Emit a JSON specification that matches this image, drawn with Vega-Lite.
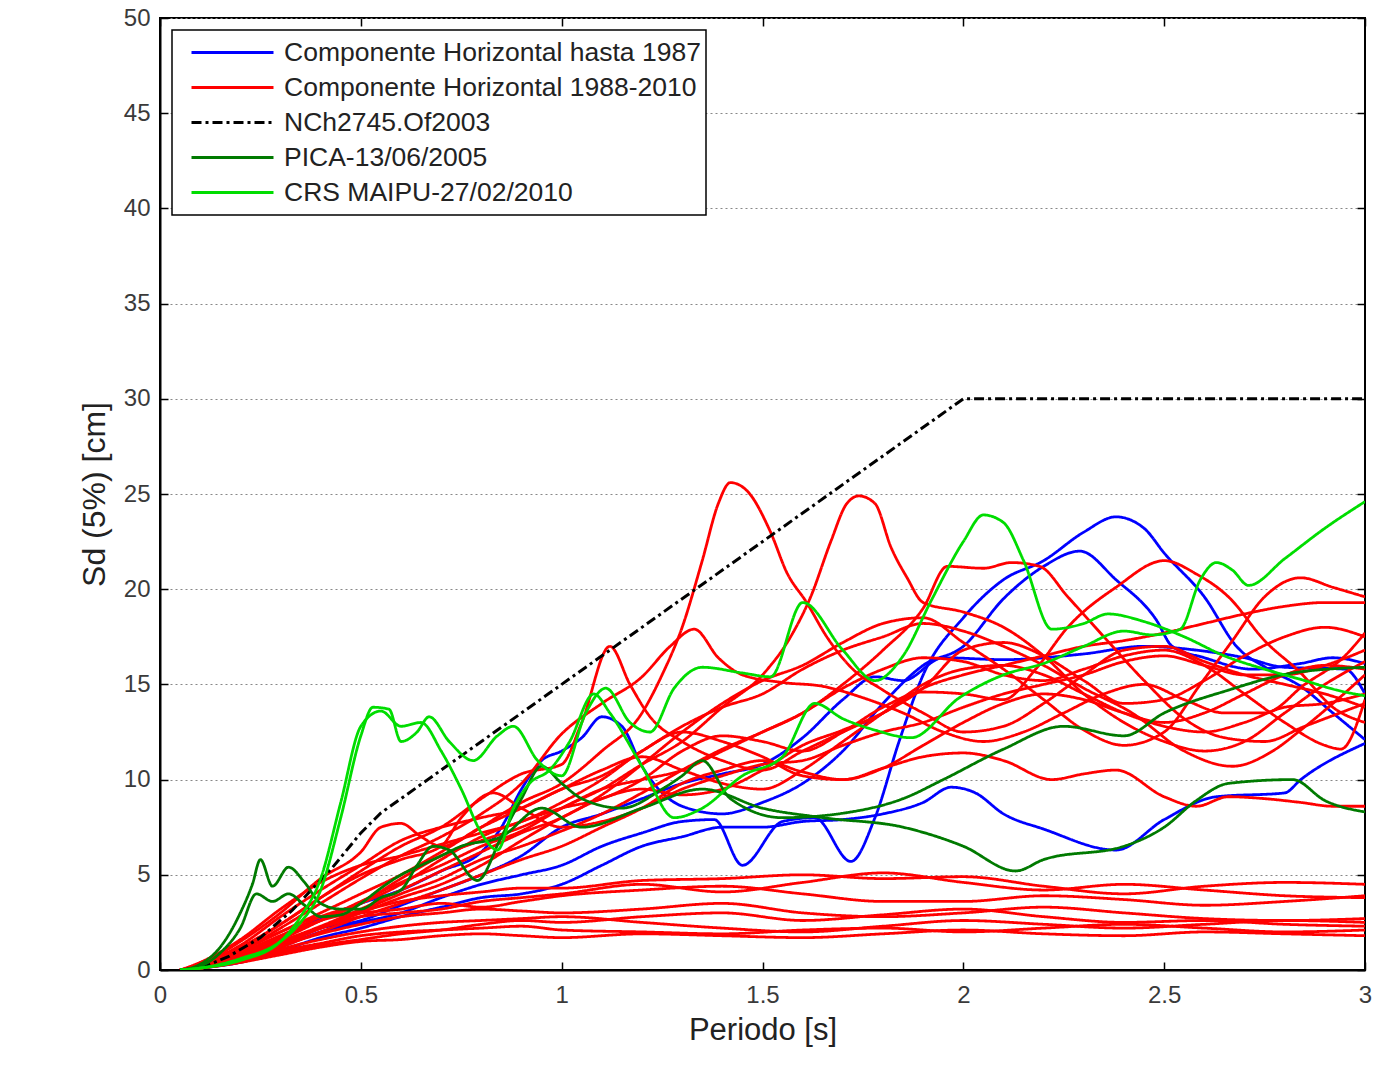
{
"$schema":"https://vega.github.io/schema/vega-lite/v6.json",
"width":1205,"height":952,
"autosize":{"type":"none"},
"padding":{"left":160,"top":18,"right":27,"bottom":96},
"background":"white",
"config":{
"view":{"stroke":"black","strokeWidth":2},
"axis":{"labelFont":"Liberation Sans","titleFont":"Liberation Sans","labelFontSize":24,"titleFontSize":31,"labelColor":"#3a3a3a","titleColor":"#222","titleFontWeight":"normal","domainColor":"black","domainWidth":2,"tickColor":"black","tickWidth":1.5,"tickSize":-8,"labelPadding":18,"labelFlush":false},
"legend":{"orient":"top-left","offset":12,"padding":5,"fillColor":"white","strokeColor":"black","strokeWidth":1.5,"labelFont":"Liberation Sans","labelFontSize":26.5,"labelColor":"#222","symbolType":"stroke","symbolSize":6724,"symbolStrokeWidth":3,"symbolOffset":13,"labelOffset":9,"clipHeight":35,"rowPadding":0,"labelLimit":0}
},
"datasets":{
"ser":[{"s":"b1","g":"Componente Horizontal hasta 1987"},{"s":"b2","g":"Componente Horizontal hasta 1987"},{"s":"b3","g":"Componente Horizontal hasta 1987"},{"s":"b4","g":"Componente Horizontal hasta 1987"},
{"s":"r1","g":"Componente Horizontal 1988-2010"},{"s":"r2","g":"Componente Horizontal 1988-2010"},{"s":"r3","g":"Componente Horizontal 1988-2010"},{"s":"r4","g":"Componente Horizontal 1988-2010"},{"s":"r5","g":"Componente Horizontal 1988-2010"},{"s":"r6","g":"Componente Horizontal 1988-2010"},{"s":"r7","g":"Componente Horizontal 1988-2010"},{"s":"r8","g":"Componente Horizontal 1988-2010"},{"s":"r9","g":"Componente Horizontal 1988-2010"},{"s":"r10","g":"Componente Horizontal 1988-2010"},{"s":"r11","g":"Componente Horizontal 1988-2010"},{"s":"r12","g":"Componente Horizontal 1988-2010"},{"s":"r13","g":"Componente Horizontal 1988-2010"},{"s":"r14","g":"Componente Horizontal 1988-2010"},
{"s":"l1","g":"Componente Horizontal 1988-2010"},{"s":"l2","g":"Componente Horizontal 1988-2010"},{"s":"l3","g":"Componente Horizontal 1988-2010"},{"s":"l4","g":"Componente Horizontal 1988-2010"},{"s":"l5","g":"Componente Horizontal 1988-2010"},{"s":"l6","g":"Componente Horizontal 1988-2010"},{"s":"l7","g":"Componente Horizontal 1988-2010"},{"s":"l8","g":"Componente Horizontal 1988-2010"},
{"s":"n","g":"NCh2745.Of2003"},
{"s":"d1","g":"PICA-13/06/2005"},{"s":"d2","g":"PICA-13/06/2005"},
{"s":"g1","g":"CRS MAIPU-27/02/2010"},{"s":"g2","g":"CRS MAIPU-27/02/2010"}],
"pts":[
{"s":"b1","t":0.05,"v":0},{"s":"b1","t":0.1,"v":0.1},{"s":"b1","t":0.2,"v":0.5},{"s":"b1","t":0.3,"v":1.2},{"s":"b1","t":0.4,"v":2},{"s":"b1","t":0.5,"v":2.5},{"s":"b1","t":0.6,"v":3},{"s":"b1","t":0.7,"v":3.8},{"s":"b1","t":0.8,"v":4.5},{"s":"b1","t":0.9,"v":5},{"s":"b1","t":1.0,"v":5.5},{"s":"b1","t":1.1,"v":6.5},{"s":"b1","t":1.2,"v":7.2},{"s":"b1","t":1.3,"v":7.8},{"s":"b1","t":1.38,"v":7.9},{"s":"b1","t":1.45,"v":5.5},{"s":"b1","t":1.55,"v":7.8},{"s":"b1","t":1.63,"v":8},{"s":"b1","t":1.72,"v":5.7},{"s":"b1","t":1.78,"v":8},{"s":"b1","t":1.84,"v":12},{"s":"b1","t":1.9,"v":15.5},{"s":"b1","t":2.0,"v":18.5},{"s":"b1","t":2.1,"v":20.5},{"s":"b1","t":2.2,"v":21.5},{"s":"b1","t":2.3,"v":23},{"s":"b1","t":2.38,"v":23.8},{"s":"b1","t":2.45,"v":23.2},{"s":"b1","t":2.5,"v":21.9},{"s":"b1","t":2.6,"v":19.6},{"s":"b1","t":2.68,"v":17},{"s":"b1","t":2.76,"v":15.8},{"s":"b1","t":2.84,"v":14.9},{"s":"b1","t":2.92,"v":13.5},{"s":"b1","t":3.0,"v":12.1},
{"s":"b2","t":0.05,"v":0},{"s":"b2","t":0.1,"v":0.2},{"s":"b2","t":0.2,"v":0.9},{"s":"b2","t":0.3,"v":1.7},{"s":"b2","t":0.4,"v":2.7},{"s":"b2","t":0.5,"v":3.5},{"s":"b2","t":0.6,"v":4.2},{"s":"b2","t":0.7,"v":5.2},{"s":"b2","t":0.8,"v":6.2},{"s":"b2","t":0.85,"v":7.5},{"s":"b2","t":0.9,"v":9.5},{"s":"b2","t":0.95,"v":11},{"s":"b2","t":1.0,"v":11.5},{"s":"b2","t":1.05,"v":12.2},{"s":"b2","t":1.1,"v":13.3},{"s":"b2","t":1.15,"v":12.8},{"s":"b2","t":1.2,"v":10.7},{"s":"b2","t":1.3,"v":8.6},{"s":"b2","t":1.4,"v":8.2},{"s":"b2","t":1.5,"v":8.8},{"s":"b2","t":1.6,"v":9.8},{"s":"b2","t":1.7,"v":11.5},{"s":"b2","t":1.8,"v":14},{"s":"b2","t":1.9,"v":16},{"s":"b2","t":2.0,"v":17},{"s":"b2","t":2.1,"v":19.5},{"s":"b2","t":2.2,"v":21.2},{"s":"b2","t":2.29,"v":22},{"s":"b2","t":2.38,"v":20.5},{"s":"b2","t":2.48,"v":18.4},{"s":"b2","t":2.52,"v":17},{"s":"b2","t":2.6,"v":16.4},{"s":"b2","t":2.72,"v":15.8},{"s":"b2","t":2.84,"v":16.1},{"s":"b2","t":2.92,"v":16.4},{"s":"b2","t":3.0,"v":16.1},
{"s":"b3","t":0.05,"v":0},{"s":"b3","t":0.1,"v":0.1},{"s":"b3","t":0.2,"v":0.6},{"s":"b3","t":0.3,"v":1.4},{"s":"b3","t":0.4,"v":2.2},{"s":"b3","t":0.5,"v":2.6},{"s":"b3","t":0.6,"v":3.4},{"s":"b3","t":0.7,"v":4.2},{"s":"b3","t":0.8,"v":5},{"s":"b3","t":0.9,"v":6},{"s":"b3","t":1.0,"v":7.5},{"s":"b3","t":1.1,"v":8.2},{"s":"b3","t":1.2,"v":9},{"s":"b3","t":1.3,"v":9.8},{"s":"b3","t":1.4,"v":10.3},{"s":"b3","t":1.5,"v":10.8},{"s":"b3","t":1.6,"v":12.2},{"s":"b3","t":1.7,"v":14.2},{"s":"b3","t":1.78,"v":15.4},{"s":"b3","t":1.85,"v":15.2},{"s":"b3","t":1.95,"v":16.4},{"s":"b3","t":2.1,"v":16.3},{"s":"b3","t":2.3,"v":16.6},{"s":"b3","t":2.45,"v":17},{"s":"b3","t":2.58,"v":16.8},{"s":"b3","t":2.7,"v":16.4},{"s":"b3","t":2.8,"v":15.9},{"s":"b3","t":2.95,"v":15.8},{"s":"b3","t":3.0,"v":14.5},
{"s":"b4","t":0.05,"v":0},{"s":"b4","t":0.1,"v":0.1},{"s":"b4","t":0.2,"v":0.4},{"s":"b4","t":0.3,"v":1},{"s":"b4","t":0.4,"v":1.7},{"s":"b4","t":0.5,"v":2.2},{"s":"b4","t":0.6,"v":2.8},{"s":"b4","t":0.7,"v":3.3},{"s":"b4","t":0.8,"v":3.8},{"s":"b4","t":0.9,"v":4},{"s":"b4","t":1.0,"v":4.5},{"s":"b4","t":1.1,"v":5.5},{"s":"b4","t":1.2,"v":6.5},{"s":"b4","t":1.3,"v":7},{"s":"b4","t":1.4,"v":7.5},{"s":"b4","t":1.5,"v":7.5},{"s":"b4","t":1.6,"v":7.8},{"s":"b4","t":1.7,"v":7.9},{"s":"b4","t":1.8,"v":8.2},{"s":"b4","t":1.9,"v":8.8},{"s":"b4","t":1.97,"v":9.6},{"s":"b4","t":2.03,"v":9.3},{"s":"b4","t":2.1,"v":8.2},{"s":"b4","t":2.2,"v":7.4},{"s":"b4","t":2.38,"v":6.3},{"s":"b4","t":2.5,"v":7.9},{"s":"b4","t":2.63,"v":9.1},{"s":"b4","t":2.8,"v":9.3},{"s":"b4","t":2.84,"v":10},{"s":"b4","t":3.0,"v":11.9},
{"s":"r1","t":0.05,"v":0},{"s":"r1","t":0.1,"v":0.2},{"s":"r1","t":0.2,"v":1},{"s":"r1","t":0.3,"v":2},{"s":"r1","t":0.4,"v":3},{"s":"r1","t":0.5,"v":4},{"s":"r1","t":0.6,"v":5},{"s":"r1","t":0.7,"v":6.2},{"s":"r1","t":0.8,"v":7.5},{"s":"r1","t":0.9,"v":8.8},{"s":"r1","t":1.0,"v":9.8},{"s":"r1","t":1.1,"v":11.5},{"s":"r1","t":1.2,"v":13.5},{"s":"r1","t":1.25,"v":15.5},{"s":"r1","t":1.3,"v":18},{"s":"r1","t":1.35,"v":21.5},{"s":"r1","t":1.39,"v":24.5},{"s":"r1","t":1.42,"v":25.6},{"s":"r1","t":1.46,"v":25.2},{"s":"r1","t":1.52,"v":23},{"s":"r1","t":1.56,"v":20.9},{"s":"r1","t":1.61,"v":19.3},{"s":"r1","t":1.66,"v":17.5},{"s":"r1","t":1.72,"v":15.9},{"s":"r1","t":1.8,"v":14.7},{"s":"r1","t":1.9,"v":13.5},{"s":"r1","t":2.0,"v":12.5},{"s":"r1","t":2.1,"v":12.8},{"s":"r1","t":2.2,"v":14},{"s":"r1","t":2.3,"v":15.5},{"s":"r1","t":2.4,"v":16.8},{"s":"r1","t":2.5,"v":17},{"s":"r1","t":2.6,"v":16.2},{"s":"r1","t":2.7,"v":15.5},{"s":"r1","t":2.8,"v":15},{"s":"r1","t":2.9,"v":14.5},{"s":"r1","t":3.0,"v":13.8},
{"s":"r2","t":0.05,"v":0},{"s":"r2","t":0.1,"v":0.2},{"s":"r2","t":0.2,"v":0.8},{"s":"r2","t":0.3,"v":1.6},{"s":"r2","t":0.4,"v":2.6},{"s":"r2","t":0.5,"v":3.6},{"s":"r2","t":0.6,"v":4.6},{"s":"r2","t":0.7,"v":5.5},{"s":"r2","t":0.8,"v":6.5},{"s":"r2","t":0.9,"v":7.3},{"s":"r2","t":1.0,"v":8.5},{"s":"r2","t":1.1,"v":9.5},{"s":"r2","t":1.2,"v":10.8},{"s":"r2","t":1.3,"v":12},{"s":"r2","t":1.4,"v":13.8},{"s":"r2","t":1.5,"v":15.5},{"s":"r2","t":1.57,"v":17.5},{"s":"r2","t":1.62,"v":19.6},{"s":"r2","t":1.67,"v":22.5},{"s":"r2","t":1.71,"v":24.5},{"s":"r2","t":1.74,"v":24.9},{"s":"r2","t":1.78,"v":24.5},{"s":"r2","t":1.82,"v":22.2},{"s":"r2","t":1.86,"v":20.6},{"s":"r2","t":1.9,"v":19.3},{"s":"r2","t":2.0,"v":18.8},{"s":"r2","t":2.1,"v":18},{"s":"r2","t":2.2,"v":16.5},{"s":"r2","t":2.3,"v":14.5},{"s":"r2","t":2.4,"v":13},{"s":"r2","t":2.5,"v":12},{"s":"r2","t":2.6,"v":11.5},{"s":"r2","t":2.7,"v":12},{"s":"r2","t":2.8,"v":13.5},{"s":"r2","t":2.9,"v":15},{"s":"r2","t":3.0,"v":16.2},
{"s":"r3","t":0.05,"v":0},{"s":"r3","t":0.1,"v":0.1},{"s":"r3","t":0.2,"v":0.6},{"s":"r3","t":0.3,"v":1.3},{"s":"r3","t":0.4,"v":2.2},{"s":"r3","t":0.5,"v":3.1},{"s":"r3","t":0.6,"v":4},{"s":"r3","t":0.7,"v":4.8},{"s":"r3","t":0.8,"v":5.8},{"s":"r3","t":0.9,"v":6.5},{"s":"r3","t":1.0,"v":7.3},{"s":"r3","t":1.1,"v":8.2},{"s":"r3","t":1.2,"v":9.3},{"s":"r3","t":1.3,"v":10.5},{"s":"r3","t":1.4,"v":11.6},{"s":"r3","t":1.5,"v":12.5},{"s":"r3","t":1.6,"v":13.5},{"s":"r3","t":1.7,"v":15},{"s":"r3","t":1.8,"v":16.8},{"s":"r3","t":1.9,"v":19},{"s":"r3","t":1.96,"v":21.2},{"s":"r3","t":2.05,"v":21.1},{"s":"r3","t":2.12,"v":21.4},{"s":"r3","t":2.19,"v":21.2},{"s":"r3","t":2.26,"v":19.6},{"s":"r3","t":2.35,"v":17.5},{"s":"r3","t":2.45,"v":15.2},{"s":"r3","t":2.55,"v":13.2},{"s":"r3","t":2.65,"v":12.2},{"s":"r3","t":2.75,"v":12},{"s":"r3","t":2.85,"v":12.8},{"s":"r3","t":3.0,"v":14},
{"s":"r4","t":0.05,"v":0},{"s":"r4","t":0.1,"v":0.2},{"s":"r4","t":0.2,"v":0.9},{"s":"r4","t":0.3,"v":1.8},{"s":"r4","t":0.4,"v":2.8},{"s":"r4","t":0.5,"v":3.5},{"s":"r4","t":0.6,"v":4.5},{"s":"r4","t":0.7,"v":5.8},{"s":"r4","t":0.8,"v":7},{"s":"r4","t":0.9,"v":7.8},{"s":"r4","t":1.0,"v":8.5},{"s":"r4","t":1.1,"v":9},{"s":"r4","t":1.2,"v":10},{"s":"r4","t":1.3,"v":11.5},{"s":"r4","t":1.4,"v":12.3},{"s":"r4","t":1.5,"v":12},{"s":"r4","t":1.6,"v":11.5},{"s":"r4","t":1.7,"v":12.5},{"s":"r4","t":1.8,"v":13.8},{"s":"r4","t":1.9,"v":14.6},{"s":"r4","t":2.0,"v":14.5},{"s":"r4","t":2.1,"v":14.2},{"s":"r4","t":2.18,"v":15.8},{"s":"r4","t":2.26,"v":18},{"s":"r4","t":2.38,"v":20.1},{"s":"r4","t":2.5,"v":21.5},{"s":"r4","t":2.58,"v":20.8},{"s":"r4","t":2.66,"v":19.6},{"s":"r4","t":2.75,"v":17.3},{"s":"r4","t":2.84,"v":15.6},{"s":"r4","t":2.92,"v":13.8},{"s":"r4","t":3.0,"v":13},
{"s":"r5","t":0.05,"v":0},{"s":"r5","t":0.1,"v":0.1},{"s":"r5","t":0.2,"v":0.7},{"s":"r5","t":0.3,"v":1.5},{"s":"r5","t":0.4,"v":2.3},{"s":"r5","t":0.5,"v":3.2},{"s":"r5","t":0.6,"v":4.2},{"s":"r5","t":0.7,"v":5.2},{"s":"r5","t":0.8,"v":6.2},{"s":"r5","t":0.9,"v":7.2},{"s":"r5","t":1.0,"v":8},{"s":"r5","t":1.1,"v":9.2},{"s":"r5","t":1.2,"v":10.8},{"s":"r5","t":1.3,"v":12.5},{"s":"r5","t":1.4,"v":14},{"s":"r5","t":1.5,"v":15.2},{"s":"r5","t":1.6,"v":16},{"s":"r5","t":1.7,"v":17.2},{"s":"r5","t":1.8,"v":18.2},{"s":"r5","t":1.9,"v":18.5},{"s":"r5","t":2.0,"v":17.2},{"s":"r5","t":2.1,"v":15.8},{"s":"r5","t":2.2,"v":14.2},{"s":"r5","t":2.3,"v":12.6},{"s":"r5","t":2.4,"v":11.8},{"s":"r5","t":2.5,"v":12.5},{"s":"r5","t":2.59,"v":15},{"s":"r5","t":2.67,"v":17.3},{"s":"r5","t":2.75,"v":19.6},{"s":"r5","t":2.84,"v":20.6},{"s":"r5","t":2.92,"v":20.1},{"s":"r5","t":3.0,"v":19.6},
{"s":"r6","t":0.05,"v":0},{"s":"r6","t":0.1,"v":0.3},{"s":"r6","t":0.2,"v":1.2},{"s":"r6","t":0.3,"v":2.4},{"s":"r6","t":0.4,"v":3.8},{"s":"r6","t":0.5,"v":5.2},{"s":"r6","t":0.6,"v":6.5},{"s":"r6","t":0.7,"v":7.5},{"s":"r6","t":0.8,"v":9},{"s":"r6","t":0.9,"v":10.3},{"s":"r6","t":1.0,"v":10.8},{"s":"r6","t":1.05,"v":13},{"s":"r6","t":1.12,"v":17},{"s":"r6","t":1.17,"v":15},{"s":"r6","t":1.22,"v":13.3},{"s":"r6","t":1.3,"v":12},{"s":"r6","t":1.4,"v":11},{"s":"r6","t":1.5,"v":10.5},{"s":"r6","t":1.6,"v":11.5},{"s":"r6","t":1.7,"v":12.5},{"s":"r6","t":1.8,"v":13.5},{"s":"r6","t":1.9,"v":14.8},{"s":"r6","t":2.0,"v":15.5},{"s":"r6","t":2.1,"v":16},{"s":"r6","t":2.2,"v":16.5},{"s":"r6","t":2.3,"v":17},{"s":"r6","t":2.4,"v":17.3},{"s":"r6","t":2.5,"v":17.7},{"s":"r6","t":2.6,"v":18.2},{"s":"r6","t":2.7,"v":18.7},{"s":"r6","t":2.8,"v":19.1},{"s":"r6","t":2.9,"v":19.3},{"s":"r6","t":3.0,"v":19.3},
{"s":"r7","t":0.05,"v":0},{"s":"r7","t":0.1,"v":0.2},{"s":"r7","t":0.2,"v":1},{"s":"r7","t":0.3,"v":2.2},{"s":"r7","t":0.4,"v":3.5},{"s":"r7","t":0.5,"v":4.8},{"s":"r7","t":0.6,"v":6},{"s":"r7","t":0.7,"v":7},{"s":"r7","t":0.8,"v":8.2},{"s":"r7","t":0.9,"v":9.8},{"s":"r7","t":1.0,"v":12.4},{"s":"r7","t":1.1,"v":14},{"s":"r7","t":1.2,"v":15.4},{"s":"r7","t":1.27,"v":17},{"s":"r7","t":1.33,"v":17.9},{"s":"r7","t":1.39,"v":16.4},{"s":"r7","t":1.45,"v":15.5},{"s":"r7","t":1.55,"v":15.1},{"s":"r7","t":1.65,"v":14.9},{"s":"r7","t":1.75,"v":14.3},{"s":"r7","t":1.85,"v":13.5},{"s":"r7","t":1.95,"v":12.5},{"s":"r7","t":2.05,"v":12},{"s":"r7","t":2.15,"v":12.5},{"s":"r7","t":2.25,"v":13.5},{"s":"r7","t":2.35,"v":14.5},{"s":"r7","t":2.45,"v":15},{"s":"r7","t":2.55,"v":14.2},{"s":"r7","t":2.65,"v":13.5},{"s":"r7","t":2.75,"v":13.5},{"s":"r7","t":2.85,"v":15},{"s":"r7","t":2.95,"v":16.5},{"s":"r7","t":3.0,"v":17.7},
{"s":"r8","t":0.05,"v":0},{"s":"r8","t":0.1,"v":0.1},{"s":"r8","t":0.2,"v":0.5},{"s":"r8","t":0.3,"v":1.2},{"s":"r8","t":0.4,"v":2},{"s":"r8","t":0.5,"v":2.8},{"s":"r8","t":0.6,"v":3.5},{"s":"r8","t":0.7,"v":4.2},{"s":"r8","t":0.8,"v":5},{"s":"r8","t":0.9,"v":5.8},{"s":"r8","t":1.0,"v":6.5},{"s":"r8","t":1.1,"v":7.5},{"s":"r8","t":1.2,"v":8.5},{"s":"r8","t":1.3,"v":9.8},{"s":"r8","t":1.4,"v":10.5},{"s":"r8","t":1.5,"v":11},{"s":"r8","t":1.6,"v":10.4},{"s":"r8","t":1.7,"v":10},{"s":"r8","t":1.8,"v":10.6},{"s":"r8","t":1.9,"v":11.2},{"s":"r8","t":2.0,"v":11.4},{"s":"r8","t":2.1,"v":11},{"s":"r8","t":2.22,"v":10},{"s":"r8","t":2.3,"v":10.3},{"s":"r8","t":2.38,"v":10.5},{"s":"r8","t":2.5,"v":9.1},{"s":"r8","t":2.58,"v":8.6},{"s":"r8","t":2.66,"v":9.1},{"s":"r8","t":2.75,"v":9},{"s":"r8","t":2.84,"v":8.8},{"s":"r8","t":2.92,"v":8.6},{"s":"r8","t":3.0,"v":8.6},
{"s":"r9","t":0.05,"v":0},{"s":"r9","t":0.1,"v":0.3},{"s":"r9","t":0.2,"v":1.3},{"s":"r9","t":0.3,"v":2.8},{"s":"r9","t":0.4,"v":4.2},{"s":"r9","t":0.5,"v":5.5},{"s":"r9","t":0.6,"v":6.8},{"s":"r9","t":0.7,"v":7.5},{"s":"r9","t":0.8,"v":8},{"s":"r9","t":0.9,"v":8.5},{"s":"r9","t":1.0,"v":9.5},{"s":"r9","t":1.1,"v":10.2},{"s":"r9","t":1.2,"v":11.5},{"s":"r9","t":1.3,"v":12.8},{"s":"r9","t":1.4,"v":13.8},{"s":"r9","t":1.5,"v":14.5},{"s":"r9","t":1.6,"v":15.8},{"s":"r9","t":1.7,"v":16.8},{"s":"r9","t":1.8,"v":17.5},{"s":"r9","t":1.9,"v":18.2},{"s":"r9","t":2.0,"v":17.8},{"s":"r9","t":2.1,"v":17},{"s":"r9","t":2.2,"v":16},{"s":"r9","t":2.3,"v":14.8},{"s":"r9","t":2.42,"v":13.5},{"s":"r9","t":2.55,"v":11.5},{"s":"r9","t":2.67,"v":10.7},{"s":"r9","t":2.77,"v":11.5},{"s":"r9","t":2.84,"v":12.6},{"s":"r9","t":2.92,"v":14},{"s":"r9","t":3.0,"v":15.5},
{"s":"r10","t":0.05,"v":0},{"s":"r10","t":0.1,"v":0.2},{"s":"r10","t":0.2,"v":0.8},{"s":"r10","t":0.3,"v":1.7},{"s":"r10","t":0.4,"v":2.6},{"s":"r10","t":0.5,"v":3.5},{"s":"r10","t":0.6,"v":4.8},{"s":"r10","t":0.7,"v":6},{"s":"r10","t":0.8,"v":6.8},{"s":"r10","t":0.9,"v":7.5},{"s":"r10","t":1.0,"v":8.5},{"s":"r10","t":1.1,"v":9.5},{"s":"r10","t":1.2,"v":10},{"s":"r10","t":1.3,"v":10.5},{"s":"r10","t":1.4,"v":11.5},{"s":"r10","t":1.5,"v":12.5},{"s":"r10","t":1.6,"v":13.5},{"s":"r10","t":1.7,"v":14.8},{"s":"r10","t":1.8,"v":15.8},{"s":"r10","t":1.9,"v":16.4},{"s":"r10","t":2.0,"v":16.2},{"s":"r10","t":2.1,"v":15.5},{"s":"r10","t":2.2,"v":15.2},{"s":"r10","t":2.3,"v":15.8},{"s":"r10","t":2.4,"v":16.5},{"s":"r10","t":2.5,"v":16.8},{"s":"r10","t":2.6,"v":16},{"s":"r10","t":2.7,"v":14.5},{"s":"r10","t":2.8,"v":13},{"s":"r10","t":2.9,"v":11.8},{"s":"r10","t":2.94,"v":11.6},{"s":"r10","t":3.0,"v":14.2},
{"s":"r11","t":0.05,"v":0},{"s":"r11","t":0.1,"v":0.3},{"s":"r11","t":0.2,"v":1.5},{"s":"r11","t":0.3,"v":3},{"s":"r11","t":0.4,"v":4.8},{"s":"r11","t":0.5,"v":6.2},{"s":"r11","t":0.55,"v":7.5},{"s":"r11","t":0.6,"v":7.7},{"s":"r11","t":0.65,"v":7},{"s":"r11","t":0.7,"v":6.5},{"s":"r11","t":0.8,"v":7.5},{"s":"r11","t":0.9,"v":8.5},{"s":"r11","t":1.0,"v":9.5},{"s":"r11","t":1.1,"v":10.5},{"s":"r11","t":1.2,"v":11.2},{"s":"r11","t":1.3,"v":10.5},{"s":"r11","t":1.4,"v":9.8},{"s":"r11","t":1.5,"v":9.5},{"s":"r11","t":1.6,"v":10.5},{"s":"r11","t":1.7,"v":12},{"s":"r11","t":1.8,"v":13.5},{"s":"r11","t":1.9,"v":15},{"s":"r11","t":2.0,"v":15.8},{"s":"r11","t":2.1,"v":16},{"s":"r11","t":2.2,"v":15.5},{"s":"r11","t":2.3,"v":14.5},{"s":"r11","t":2.4,"v":13.5},{"s":"r11","t":2.5,"v":12.8},{"s":"r11","t":2.6,"v":12.5},{"s":"r11","t":2.7,"v":13},{"s":"r11","t":2.8,"v":13.8},{"s":"r11","t":2.9,"v":14},{"s":"r11","t":3.0,"v":14.5},
{"s":"r12","t":0.05,"v":0},{"s":"r12","t":0.1,"v":0.2},{"s":"r12","t":0.2,"v":1.1},{"s":"r12","t":0.3,"v":2.4},{"s":"r12","t":0.4,"v":3.8},{"s":"r12","t":0.5,"v":5},{"s":"r12","t":0.6,"v":5.8},{"s":"r12","t":0.7,"v":6.5},{"s":"r12","t":0.75,"v":8},{"s":"r12","t":0.83,"v":9.3},{"s":"r12","t":0.9,"v":8.5},{"s":"r12","t":1.0,"v":7.5},{"s":"r12","t":1.1,"v":7.8},{"s":"r12","t":1.2,"v":8.5},{"s":"r12","t":1.3,"v":9.5},{"s":"r12","t":1.4,"v":10.2},{"s":"r12","t":1.5,"v":10.8},{"s":"r12","t":1.6,"v":11},{"s":"r12","t":1.7,"v":11.8},{"s":"r12","t":1.8,"v":12.5},{"s":"r12","t":1.9,"v":13},{"s":"r12","t":2.0,"v":13.8},{"s":"r12","t":2.1,"v":14.5},{"s":"r12","t":2.2,"v":15},{"s":"r12","t":2.3,"v":15.5},{"s":"r12","t":2.4,"v":16.2},{"s":"r12","t":2.5,"v":16.5},{"s":"r12","t":2.6,"v":16},{"s":"r12","t":2.7,"v":15.5},{"s":"r12","t":2.8,"v":15.5},{"s":"r12","t":2.9,"v":16},{"s":"r12","t":3.0,"v":16.8},
{"s":"r13","t":0.05,"v":0},{"s":"r13","t":0.1,"v":0.1},{"s":"r13","t":0.2,"v":0.6},{"s":"r13","t":0.3,"v":1.4},{"s":"r13","t":0.4,"v":2.2},{"s":"r13","t":0.5,"v":3},{"s":"r13","t":0.6,"v":3.8},{"s":"r13","t":0.7,"v":4.5},{"s":"r13","t":0.8,"v":5.5},{"s":"r13","t":0.9,"v":6.8},{"s":"r13","t":1.0,"v":8},{"s":"r13","t":1.1,"v":9},{"s":"r13","t":1.2,"v":9.5},{"s":"r13","t":1.3,"v":9.2},{"s":"r13","t":1.4,"v":9.5},{"s":"r13","t":1.5,"v":10.5},{"s":"r13","t":1.6,"v":11.8},{"s":"r13","t":1.7,"v":12.6},{"s":"r13","t":1.8,"v":13.5},{"s":"r13","t":1.9,"v":14.8},{"s":"r13","t":2.0,"v":16.8},{"s":"r13","t":2.1,"v":17.2},{"s":"r13","t":2.2,"v":16.5},{"s":"r13","t":2.3,"v":15.2},{"s":"r13","t":2.4,"v":14},{"s":"r13","t":2.5,"v":14.2},{"s":"r13","t":2.6,"v":15.2},{"s":"r13","t":2.7,"v":16.5},{"s":"r13","t":2.8,"v":17.5},{"s":"r13","t":2.9,"v":18},{"s":"r13","t":3.0,"v":17.5},
{"s":"r14","t":0.05,"v":0},{"s":"r14","t":0.1,"v":0.4},{"s":"r14","t":0.2,"v":1.6},{"s":"r14","t":0.3,"v":3.2},{"s":"r14","t":0.4,"v":4.6},{"s":"r14","t":0.5,"v":5.5},{"s":"r14","t":0.6,"v":6},{"s":"r14","t":0.7,"v":6.6},{"s":"r14","t":0.8,"v":7.2},{"s":"r14","t":0.9,"v":7.8},{"s":"r14","t":1.0,"v":8.8},{"s":"r14","t":1.1,"v":10},{"s":"r14","t":1.2,"v":11.5},{"s":"r14","t":1.3,"v":12.5},{"s":"r14","t":1.4,"v":12},{"s":"r14","t":1.5,"v":11.2},{"s":"r14","t":1.6,"v":10.2},{"s":"r14","t":1.7,"v":10},{"s":"r14","t":1.8,"v":10.6},{"s":"r14","t":1.9,"v":11.8},{"s":"r14","t":2.0,"v":13},{"s":"r14","t":2.1,"v":14},{"s":"r14","t":2.2,"v":14.5},{"s":"r14","t":2.3,"v":14.2},{"s":"r14","t":2.4,"v":13.5},{"s":"r14","t":2.5,"v":13},{"s":"r14","t":2.6,"v":13.5},{"s":"r14","t":2.7,"v":14.5},{"s":"r14","t":2.8,"v":15.5},{"s":"r14","t":2.9,"v":16},{"s":"r14","t":3.0,"v":15.8},
{"s":"l1","t":0.05,"v":0},{"s":"l1","t":0.1,"v":0.2},{"s":"l1","t":0.2,"v":0.9},{"s":"l1","t":0.3,"v":1.8},{"s":"l1","t":0.4,"v":2.6},{"s":"l1","t":0.5,"v":3.1},{"s":"l1","t":0.6,"v":3.6},{"s":"l1","t":0.7,"v":3.9},{"s":"l1","t":0.8,"v":4.1},{"s":"l1","t":0.9,"v":4.3},{"s":"l1","t":1.0,"v":4.3},{"s":"l1","t":1.2,"v":4.7},{"s":"l1","t":1.4,"v":4.8},{"s":"l1","t":1.6,"v":5.0},{"s":"l1","t":1.8,"v":4.8},{"s":"l1","t":2.0,"v":4.9},{"s":"l1","t":2.2,"v":4.4},{"s":"l1","t":2.4,"v":4.0},{"s":"l1","t":2.6,"v":4.4},{"s":"l1","t":2.8,"v":4.6},{"s":"l1","t":3.0,"v":4.5},
{"s":"l2","t":0.05,"v":0},{"s":"l2","t":0.1,"v":0.1},{"s":"l2","t":0.2,"v":0.7},{"s":"l2","t":0.3,"v":1.5},{"s":"l2","t":0.4,"v":2.2},{"s":"l2","t":0.5,"v":2.8},{"s":"l2","t":0.6,"v":3.0},{"s":"l2","t":0.7,"v":3.2},{"s":"l2","t":0.8,"v":3.6},{"s":"l2","t":0.9,"v":3.8},{"s":"l2","t":1.0,"v":4.0},{"s":"l2","t":1.2,"v":4.5},{"s":"l2","t":1.4,"v":4.1},{"s":"l2","t":1.6,"v":4.6},{"s":"l2","t":1.8,"v":5.1},{"s":"l2","t":2.0,"v":4.6},{"s":"l2","t":2.2,"v":4.2},{"s":"l2","t":2.4,"v":4.5},{"s":"l2","t":2.6,"v":4.2},{"s":"l2","t":2.8,"v":3.9},{"s":"l2","t":3.0,"v":3.8},
{"s":"l3","t":0.05,"v":0},{"s":"l3","t":0.1,"v":0.2},{"s":"l3","t":0.2,"v":1.0},{"s":"l3","t":0.3,"v":2.0},{"s":"l3","t":0.4,"v":2.8},{"s":"l3","t":0.5,"v":3.0},{"s":"l3","t":0.6,"v":3.2},{"s":"l3","t":0.7,"v":3.5},{"s":"l3","t":0.8,"v":3.3},{"s":"l3","t":0.9,"v":3.6},{"s":"l3","t":1.0,"v":3.9},{"s":"l3","t":1.2,"v":4.2},{"s":"l3","t":1.4,"v":4.4},{"s":"l3","t":1.6,"v":4.0},{"s":"l3","t":1.8,"v":3.6},{"s":"l3","t":2.0,"v":3.6},{"s":"l3","t":2.2,"v":3.9},{"s":"l3","t":2.4,"v":3.7},{"s":"l3","t":2.6,"v":3.4},{"s":"l3","t":2.8,"v":3.6},{"s":"l3","t":3.0,"v":3.9},
{"s":"l4","t":0.05,"v":0},{"s":"l4","t":0.1,"v":0.1},{"s":"l4","t":0.2,"v":0.6},{"s":"l4","t":0.3,"v":1.3},{"s":"l4","t":0.4,"v":1.9},{"s":"l4","t":0.5,"v":2.4},{"s":"l4","t":0.6,"v":2.8},{"s":"l4","t":0.7,"v":3.0},{"s":"l4","t":0.8,"v":3.2},{"s":"l4","t":0.9,"v":3.1},{"s":"l4","t":1.0,"v":3.0},{"s":"l4","t":1.2,"v":3.2},{"s":"l4","t":1.4,"v":3.5},{"s":"l4","t":1.6,"v":3.0},{"s":"l4","t":1.8,"v":2.8},{"s":"l4","t":2.0,"v":3.0},{"s":"l4","t":2.2,"v":3.3},{"s":"l4","t":2.4,"v":3.0},{"s":"l4","t":2.6,"v":2.7},{"s":"l4","t":2.8,"v":2.6},{"s":"l4","t":3.0,"v":2.7},
{"s":"l5","t":0.05,"v":0},{"s":"l5","t":0.1,"v":0.1},{"s":"l5","t":0.2,"v":0.5},{"s":"l5","t":0.3,"v":1.1},{"s":"l5","t":0.4,"v":1.6},{"s":"l5","t":0.5,"v":2.0},{"s":"l5","t":0.6,"v":2.3},{"s":"l5","t":0.7,"v":2.5},{"s":"l5","t":0.8,"v":2.6},{"s":"l5","t":0.9,"v":2.7},{"s":"l5","t":1.0,"v":2.8},{"s":"l5","t":1.2,"v":2.5},{"s":"l5","t":1.4,"v":2.2},{"s":"l5","t":1.6,"v":2.0},{"s":"l5","t":1.8,"v":2.3},{"s":"l5","t":2.0,"v":2.6},{"s":"l5","t":2.2,"v":2.4},{"s":"l5","t":2.4,"v":2.2},{"s":"l5","t":2.6,"v":2.4},{"s":"l5","t":2.8,"v":2.6},{"s":"l5","t":3.0,"v":2.5},
{"s":"l6","t":0.05,"v":0},{"s":"l6","t":0.1,"v":0.1},{"s":"l6","t":0.2,"v":0.5},{"s":"l6","t":0.3,"v":1.0},{"s":"l6","t":0.4,"v":1.4},{"s":"l6","t":0.5,"v":1.8},{"s":"l6","t":0.6,"v":2.0},{"s":"l6","t":0.7,"v":2.1},{"s":"l6","t":0.8,"v":2.2},{"s":"l6","t":0.9,"v":2.3},{"s":"l6","t":1.0,"v":2.1},{"s":"l6","t":1.2,"v":2.0},{"s":"l6","t":1.4,"v":1.9},{"s":"l6","t":1.6,"v":2.1},{"s":"l6","t":1.8,"v":2.2},{"s":"l6","t":2.0,"v":2.0},{"s":"l6","t":2.2,"v":2.2},{"s":"l6","t":2.4,"v":2.4},{"s":"l6","t":2.6,"v":2.2},{"s":"l6","t":2.8,"v":2.0},{"s":"l6","t":3.0,"v":2.1},
{"s":"l7","t":0.05,"v":0},{"s":"l7","t":0.1,"v":0.1},{"s":"l7","t":0.2,"v":0.4},{"s":"l7","t":0.3,"v":0.9},{"s":"l7","t":0.4,"v":1.3},{"s":"l7","t":0.5,"v":1.6},{"s":"l7","t":0.6,"v":1.9},{"s":"l7","t":0.7,"v":2.1},{"s":"l7","t":0.8,"v":2.4},{"s":"l7","t":0.9,"v":2.6},{"s":"l7","t":1.0,"v":2.5},{"s":"l7","t":1.2,"v":2.8},{"s":"l7","t":1.4,"v":3.0},{"s":"l7","t":1.6,"v":2.6},{"s":"l7","t":1.8,"v":2.9},{"s":"l7","t":2.0,"v":3.2},{"s":"l7","t":2.2,"v":2.8},{"s":"l7","t":2.4,"v":2.5},{"s":"l7","t":2.6,"v":2.6},{"s":"l7","t":2.8,"v":2.4},{"s":"l7","t":3.0,"v":2.3},
{"s":"l8","t":0.05,"v":0},{"s":"l8","t":0.1,"v":0.1},{"s":"l8","t":0.2,"v":0.4},{"s":"l8","t":0.3,"v":0.8},{"s":"l8","t":0.4,"v":1.2},{"s":"l8","t":0.5,"v":1.5},{"s":"l8","t":0.6,"v":1.6},{"s":"l8","t":0.7,"v":1.8},{"s":"l8","t":0.8,"v":1.9},{"s":"l8","t":0.9,"v":1.8},{"s":"l8","t":1.0,"v":1.7},{"s":"l8","t":1.2,"v":1.9},{"s":"l8","t":1.4,"v":1.8},{"s":"l8","t":1.6,"v":1.7},{"s":"l8","t":1.8,"v":1.9},{"s":"l8","t":2.0,"v":2.1},{"s":"l8","t":2.2,"v":1.9},{"s":"l8","t":2.4,"v":1.8},{"s":"l8","t":2.6,"v":2.0},{"s":"l8","t":2.8,"v":1.9},{"s":"l8","t":3.0,"v":1.8},
{"s":"n","t":0.05,"v":0},{"s":"n","t":0.1,"v":0.1},{"s":"n","t":0.17,"v":0.7},{"s":"n","t":0.25,"v":1.7},{"s":"n","t":0.33,"v":3.15},{"s":"n","t":0.43,"v":5.4},{"s":"n","t":0.5,"v":7.2},{"s":"n","t":0.55,"v":8.25},{"s":"n","t":1.0,"v":15},{"s":"n","t":2.0,"v":30},{"s":"n","t":3.0,"v":30},
{"s":"d1","t":0.05,"v":0},{"s":"d1","t":0.1,"v":0.3},{"s":"d1","t":0.15,"v":1.2},{"s":"d1","t":0.2,"v":3},{"s":"d1","t":0.23,"v":4.5},{"s":"d1","t":0.25,"v":5.8},{"s":"d1","t":0.28,"v":4.4},{"s":"d1","t":0.32,"v":5.4},{"s":"d1","t":0.36,"v":4.6},{"s":"d1","t":0.4,"v":3.5},{"s":"d1","t":0.45,"v":3.2},{"s":"d1","t":0.5,"v":3.2},{"s":"d1","t":0.55,"v":3.8},{"s":"d1","t":0.6,"v":4.2},{"s":"d1","t":0.64,"v":5.5},{"s":"d1","t":0.68,"v":6.5},{"s":"d1","t":0.72,"v":6.3},{"s":"d1","t":0.79,"v":4.7},{"s":"d1","t":0.85,"v":7},{"s":"d1","t":0.9,"v":9},{"s":"d1","t":0.95,"v":10.7},{"s":"d1","t":1.0,"v":9.8},{"s":"d1","t":1.05,"v":9},{"s":"d1","t":1.15,"v":8.5},{"s":"d1","t":1.25,"v":9.5},{"s":"d1","t":1.3,"v":10.2},{"s":"d1","t":1.35,"v":11},{"s":"d1","t":1.42,"v":9},{"s":"d1","t":1.55,"v":8},{"s":"d1","t":1.72,"v":8.3},{"s":"d1","t":1.85,"v":9},{"s":"d1","t":1.95,"v":10},{"s":"d1","t":2.1,"v":11.6},{"s":"d1","t":2.25,"v":12.8},{"s":"d1","t":2.4,"v":12.3},{"s":"d1","t":2.5,"v":13.5},{"s":"d1","t":2.66,"v":14.7},{"s":"d1","t":2.82,"v":15.6},{"s":"d1","t":3.0,"v":15.9},
{"s":"d2","t":0.05,"v":0},{"s":"d2","t":0.1,"v":0.2},{"s":"d2","t":0.15,"v":0.9},{"s":"d2","t":0.2,"v":2.2},{"s":"d2","t":0.24,"v":4.0},{"s":"d2","t":0.28,"v":3.6},{"s":"d2","t":0.32,"v":4.0},{"s":"d2","t":0.36,"v":3.4},{"s":"d2","t":0.4,"v":2.8},{"s":"d2","t":0.45,"v":2.9},{"s":"d2","t":0.5,"v":3.5},{"s":"d2","t":0.55,"v":4.3},{"s":"d2","t":0.6,"v":5},{"s":"d2","t":0.65,"v":5.5},{"s":"d2","t":0.7,"v":6},{"s":"d2","t":0.75,"v":6.5},{"s":"d2","t":0.85,"v":7},{"s":"d2","t":0.95,"v":8.5},{"s":"d2","t":1.05,"v":7.5},{"s":"d2","t":1.2,"v":8.5},{"s":"d2","t":1.35,"v":9.5},{"s":"d2","t":1.5,"v":8.5},{"s":"d2","t":1.65,"v":8},{"s":"d2","t":1.85,"v":7.5},{"s":"d2","t":2.0,"v":6.5},{"s":"d2","t":2.13,"v":5.2},{"s":"d2","t":2.2,"v":5.8},{"s":"d2","t":2.4,"v":6.5},{"s":"d2","t":2.5,"v":7.5},{"s":"d2","t":2.58,"v":8.9},{"s":"d2","t":2.66,"v":9.8},{"s":"d2","t":2.82,"v":10},{"s":"d2","t":2.9,"v":8.9},{"s":"d2","t":3.0,"v":8.3},
{"s":"g1","t":0.05,"v":0},{"s":"g1","t":0.1,"v":0.1},{"s":"g1","t":0.2,"v":0.6},{"s":"g1","t":0.3,"v":1.5},{"s":"g1","t":0.35,"v":2.5},{"s":"g1","t":0.4,"v":4.2},{"s":"g1","t":0.45,"v":8},{"s":"g1","t":0.5,"v":12.3},{"s":"g1","t":0.53,"v":13.8},{"s":"g1","t":0.57,"v":13.7},{"s":"g1","t":0.6,"v":12},{"s":"g1","t":0.64,"v":12.5},{"s":"g1","t":0.67,"v":13.3},{"s":"g1","t":0.72,"v":12},{"s":"g1","t":0.78,"v":11},{"s":"g1","t":0.84,"v":12.3},{"s":"g1","t":0.88,"v":12.8},{"s":"g1","t":0.94,"v":11},{"s":"g1","t":1.0,"v":10.2},{"s":"g1","t":1.06,"v":13.5},{"s":"g1","t":1.11,"v":14.8},{"s":"g1","t":1.17,"v":13},{"s":"g1","t":1.22,"v":12.5},{"s":"g1","t":1.28,"v":14.8},{"s":"g1","t":1.35,"v":15.9},{"s":"g1","t":1.45,"v":15.6},{"s":"g1","t":1.52,"v":15.4},{"s":"g1","t":1.6,"v":19.3},{"s":"g1","t":1.7,"v":16.8},{"s":"g1","t":1.78,"v":15.2},{"s":"g1","t":1.85,"v":16.5},{"s":"g1","t":1.92,"v":19.4},{"s":"g1","t":2.0,"v":22.5},{"s":"g1","t":2.05,"v":23.9},{"s":"g1","t":2.1,"v":23.5},{"s":"g1","t":2.15,"v":21.5},{"s":"g1","t":2.22,"v":17.9},{"s":"g1","t":2.3,"v":18.2},{"s":"g1","t":2.36,"v":18.7},{"s":"g1","t":2.45,"v":18.3},{"s":"g1","t":2.55,"v":17.5},{"s":"g1","t":2.65,"v":16.5},{"s":"g1","t":2.75,"v":15.8},{"s":"g1","t":2.85,"v":15.2},{"s":"g1","t":2.93,"v":14.7},{"s":"g1","t":3.0,"v":14.4},
{"s":"g2","t":0.05,"v":0},{"s":"g2","t":0.1,"v":0.1},{"s":"g2","t":0.2,"v":0.5},{"s":"g2","t":0.3,"v":1.5},{"s":"g2","t":0.35,"v":2.8},{"s":"g2","t":0.4,"v":4.8},{"s":"g2","t":0.45,"v":8.8},{"s":"g2","t":0.5,"v":12.8},{"s":"g2","t":0.55,"v":13.6},{"s":"g2","t":0.6,"v":12.8},{"s":"g2","t":0.65,"v":13},{"s":"g2","t":0.7,"v":11.5},{"s":"g2","t":0.75,"v":9.5},{"s":"g2","t":0.8,"v":7.2},{"s":"g2","t":0.84,"v":6.3},{"s":"g2","t":0.88,"v":8.5},{"s":"g2","t":0.92,"v":9.8},{"s":"g2","t":0.97,"v":10.5},{"s":"g2","t":1.02,"v":12},{"s":"g2","t":1.08,"v":14.5},{"s":"g2","t":1.12,"v":13.5},{"s":"g2","t":1.2,"v":10.7},{"s":"g2","t":1.28,"v":8},{"s":"g2","t":1.35,"v":8.5},{"s":"g2","t":1.45,"v":10.2},{"s":"g2","t":1.55,"v":11.2},{"s":"g2","t":1.63,"v":14},{"s":"g2","t":1.7,"v":13.2},{"s":"g2","t":1.78,"v":12.6},{"s":"g2","t":1.87,"v":12.2},{"s":"g2","t":1.99,"v":14.3},{"s":"g2","t":2.1,"v":15.5},{"s":"g2","t":2.2,"v":16.1},{"s":"g2","t":2.3,"v":17},{"s":"g2","t":2.4,"v":17.8},{"s":"g2","t":2.47,"v":17.6},{"s":"g2","t":2.54,"v":17.9},{"s":"g2","t":2.59,"v":20.5},{"s":"g2","t":2.63,"v":21.4},{"s":"g2","t":2.67,"v":21},{"s":"g2","t":2.71,"v":20.2},{"s":"g2","t":2.8,"v":21.6},{"s":"g2","t":2.9,"v":23.2},{"s":"g2","t":3.0,"v":24.6}
]},
"data":{"name":"pts"},
"transform":[{"lookup":"s","from":{"data":{"name":"ser"},"key":"s","fields":["g"]}}],
"layer":[
{"transform":[{"filter":{"field":"g","oneOf":["Componente Horizontal hasta 1987","Componente Horizontal 1988-2010"]}}],
"mark":{"type":"line","strokeWidth":2.8,"interpolate":"monotone","clip":true},
"encoding":{
"x":{"field":"t","type":"quantitative","scale":{"domain":[0,3],"nice":false,"zero":false},"axis":{"orient":"bottom","values":[0,0.5,1,1.5,2,2.5,3],"format":"~g","title":"Periodo [s]","grid":false,"labelPadding":21,"titlePadding":8}},
"y":{"field":"v","type":"quantitative","scale":{"domain":[0,50],"nice":false},"axis":{"orient":"left","values":[0,5,10,15,20,25,30,35,40,45,50],"title":"Sd (5%) [cm]","titleFontSize":32,"grid":true,"gridDash":[2,3],"gridColor":"#888","gridWidth":1,"titlePadding":12}},
"color":{"field":"g","type":"nominal","scale":{"domain":["Componente Horizontal hasta 1987","Componente Horizontal 1988-2010","NCh2745.Of2003","PICA-13/06/2005","CRS MAIPU-27/02/2010"],"range":["#0000ff","#ff0000","#000000","#007a00","#00dd00"]},"legend":{"title":null}},
"strokeDash":{"field":"g","type":"nominal","scale":{"domain":["Componente Horizontal hasta 1987","Componente Horizontal 1988-2010","NCh2745.Of2003","PICA-13/06/2005","CRS MAIPU-27/02/2010"],"range":[[1,0],[1,0],[10,4,3,4],[1,0],[1,0]]},"legend":{"title":null}},
"detail":{"field":"s"}}},
{"transform":[{"filter":{"field":"s","equal":"n"}}],
"mark":{"type":"line","strokeWidth":3,"interpolate":"linear","clip":true},
"encoding":{
"x":{"field":"t","type":"quantitative","axis":{"orient":"top","values":[0,0.5,1,1.5,2,2.5,3],"labels":false,"title":null,"domain":false,"grid":false}},
"y":{"field":"v","type":"quantitative","axis":{"orient":"right","values":[0,5,10,15,20,25,30,35,40,45,50],"labels":false,"title":null,"domain":false,"grid":false}},
"color":{"field":"g","type":"nominal","legend":{"title":null}},
"strokeDash":{"field":"g","type":"nominal","legend":{"title":null}},
"detail":{"field":"s"}}},
{"transform":[{"filter":{"field":"g","oneOf":["PICA-13/06/2005","CRS MAIPU-27/02/2010"]}}],
"mark":{"type":"line","strokeWidth":2.8,"interpolate":"monotone","clip":true},
"encoding":{
"x":{"field":"t","type":"quantitative","axis":null},
"y":{"field":"v","type":"quantitative","axis":null},
"color":{"field":"g","type":"nominal","legend":{"title":null}},
"strokeDash":{"field":"g","type":"nominal","legend":{"title":null}},
"detail":{"field":"s"}}}
],
"resolve":{"axis":{"x":"independent","y":"independent"}}
}
